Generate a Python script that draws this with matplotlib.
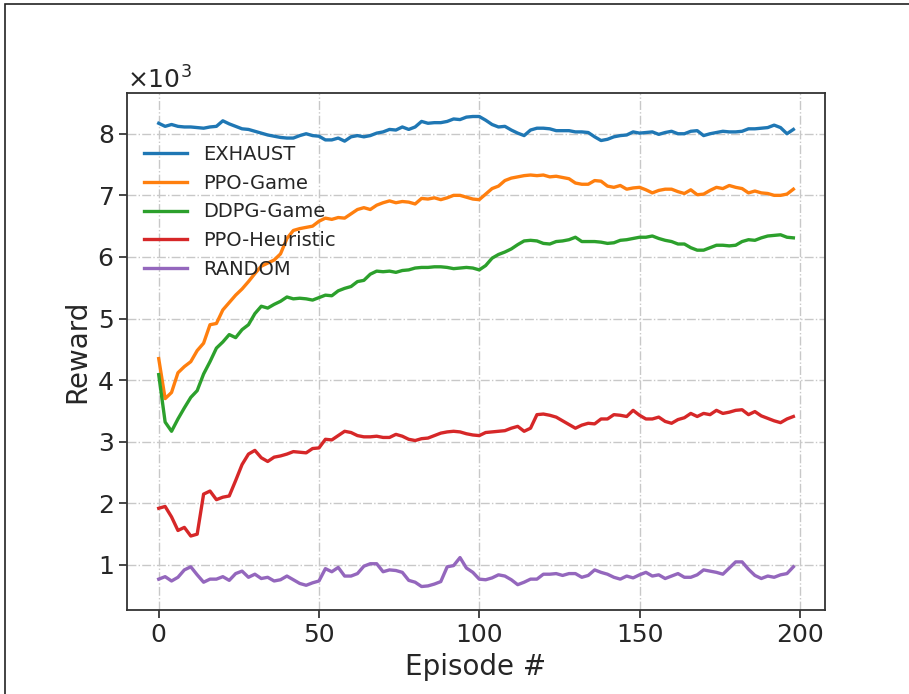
import matplotlib
matplotlib.use('Agg')
import matplotlib.pyplot as plt
import numpy as np
from matplotlib.patches import Rectangle

# 数据（单位：千），每 2 个 episode 取一个点
episodes = np.arange(0, 200, 2)

exhaust = [8.17, 8.12, 8.15, 8.12, 8.11, 8.11, 8.10, 8.09, 8.11, 8.12,
           8.21, 8.16, 8.12, 8.08, 8.07, 8.04, 8.01, 7.98, 7.96, 7.94,
           7.93, 7.93, 7.97, 8.00, 7.97, 7.96, 7.90, 7.90, 7.93, 7.88,
           7.95, 7.97, 7.95, 7.97, 8.01, 8.03, 8.07, 8.06, 8.11, 8.07,
           8.11, 8.20, 8.17, 8.18, 8.18, 8.20, 8.24, 8.23, 8.27, 8.28,
           8.28, 8.22, 8.15, 8.11, 8.12, 8.06, 8.01, 7.97, 8.06, 8.09,
           8.09, 8.08, 8.05, 8.05, 8.05, 8.03, 8.03, 8.02, 7.95, 7.89,
           7.91, 7.95, 7.97, 7.98, 8.03, 8.01, 8.02, 8.03, 7.99, 8.02,
           8.04, 8.00, 8.00, 8.04, 8.05, 7.97, 8.00, 8.02, 8.04, 8.03,
           8.03, 8.04, 8.08, 8.08, 8.09, 8.10, 8.14, 8.10, 8.00, 8.07]

ppo_game = [4.35, 3.70, 3.80, 4.12, 4.22, 4.30, 4.48, 4.60, 4.90, 4.92,
            5.14, 5.26, 5.38, 5.48, 5.60, 5.73, 5.85, 5.90, 5.95, 6.05,
            6.30, 6.43, 6.46, 6.48, 6.50, 6.58, 6.63, 6.61, 6.64, 6.63,
            6.70, 6.77, 6.80, 6.77, 6.84, 6.88, 6.91, 6.88, 6.90, 6.89,
            6.86, 6.95, 6.94, 6.96, 6.93, 6.96, 7.00, 7.00, 6.97, 6.94,
            6.93, 7.02, 7.11, 7.15, 7.24, 7.28, 7.30, 7.32, 7.33, 7.32,
            7.33, 7.30, 7.31, 7.29, 7.27, 7.20, 7.18, 7.18, 7.24, 7.23,
            7.15, 7.13, 7.16, 7.10, 7.12, 7.13, 7.09, 7.04, 7.08, 7.10,
            7.10, 7.06, 7.03, 7.09, 7.01, 7.02, 7.08, 7.13, 7.11, 7.16,
            7.13, 7.11, 7.04, 7.07, 7.04, 7.03, 7.00, 7.00, 7.02, 7.10]

ddpg_game = [4.09, 3.32, 3.17, 3.37, 3.55, 3.72, 3.83, 4.10, 4.30, 4.52,
             4.62, 4.74, 4.69, 4.82, 4.90, 5.08, 5.20, 5.17, 5.23, 5.28,
             5.35, 5.32, 5.33, 5.32, 5.30, 5.34, 5.38, 5.37, 5.45, 5.49,
             5.52, 5.60, 5.62, 5.72, 5.77, 5.76, 5.77, 5.75, 5.78, 5.79,
             5.82, 5.83, 5.83, 5.84, 5.84, 5.83, 5.81, 5.82, 5.83, 5.82,
             5.79, 5.86, 5.98, 6.04, 6.08, 6.13, 6.20, 6.26, 6.27, 6.26,
             6.22, 6.21, 6.25, 6.26, 6.28, 6.32, 6.25, 6.25, 6.25, 6.24,
             6.22, 6.23, 6.27, 6.28, 6.30, 6.32, 6.32, 6.34, 6.30, 6.27,
             6.25, 6.21, 6.21, 6.15, 6.11, 6.11, 6.15, 6.19, 6.19, 6.18,
             6.19, 6.25, 6.28, 6.27, 6.31, 6.34, 6.35, 6.36, 6.32, 6.31]

ppo_heuristic = [1.92, 1.95, 1.78, 1.56, 1.61, 1.47, 1.50, 2.15, 2.20, 2.06,
                 2.10, 2.12, 2.37, 2.63, 2.80, 2.86, 2.74, 2.68, 2.75, 2.77,
                 2.80, 2.84, 2.83, 2.82, 2.89, 2.90, 3.04, 3.03, 3.10, 3.17,
                 3.15, 3.10, 3.08, 3.08, 3.09, 3.07, 3.07, 3.12, 3.09, 3.04,
                 3.02, 3.05, 3.06, 3.10, 3.14, 3.16, 3.17, 3.16, 3.13, 3.11,
                 3.10, 3.15, 3.16, 3.17, 3.18, 3.22, 3.25, 3.17, 3.22, 3.44,
                 3.45, 3.43, 3.40, 3.34, 3.28, 3.22, 3.27, 3.30, 3.29, 3.37,
                 3.37, 3.44, 3.43, 3.41, 3.51, 3.43, 3.37, 3.37, 3.40, 3.33,
                 3.30, 3.36, 3.39, 3.46, 3.41, 3.46, 3.44, 3.51, 3.46, 3.48,
                 3.51, 3.52, 3.44, 3.49, 3.42, 3.38, 3.34, 3.31, 3.37, 3.41]

random_policy = [0.77, 0.81, 0.74, 0.80, 0.92, 0.97, 0.84, 0.72, 0.77, 0.77,
                 0.81, 0.75, 0.86, 0.90, 0.80, 0.85, 0.78, 0.80, 0.74, 0.76,
                 0.82, 0.76, 0.70, 0.67, 0.71, 0.74, 0.94, 0.89, 0.96, 0.82,
                 0.82, 0.86, 0.98, 1.02, 1.02, 0.89, 0.92, 0.91, 0.88, 0.75,
                 0.72, 0.65, 0.66, 0.69, 0.73, 0.97, 0.99, 1.12, 0.95, 0.88,
                 0.77, 0.76, 0.79, 0.84, 0.82, 0.76, 0.68, 0.72, 0.77, 0.77,
                 0.85, 0.85, 0.86, 0.83, 0.86, 0.86, 0.80, 0.83, 0.92, 0.88,
                 0.85, 0.80, 0.77, 0.82, 0.79, 0.84, 0.88, 0.82, 0.84, 0.78,
                 0.82, 0.86, 0.80, 0.80, 0.84, 0.92, 0.90, 0.88, 0.85, 0.95,
                 1.05, 1.05, 0.93, 0.83, 0.78, 0.82, 0.80, 0.84, 0.86, 0.97]

series = [
    ("EXHAUST", exhaust, "tab:blue"),
    ("PPO-Game", ppo_game, "tab:orange"),
    ("DDPG-Game", ddpg_game, "tab:green"),
    ("PPO-Heuristic", ppo_heuristic, "tab:red"),
    ("RANDOM", random_policy, "tab:purple"),
]

plt.rcParams['font.family'] = ['DejaVu Sans']
text_color = '#262626'

fig = plt.figure(figsize=(9.09, 6.94), dpi=100)
ax = fig.add_axes([0.1397, 0.121, 0.768, 0.745])

for label, values, color in series:
    ax.plot(episodes, np.array(values) * 1000, color=color, linewidth=2.4, label=label)

ax.grid(True, linestyle='-.', color='#c8c8c8', linewidth=1)
ax.set_axisbelow(True)

ax.ticklabel_format(axis='y', style='sci', scilimits=(0, 0), useMathText=True)
ax.yaxis.get_offset_text().set_fontsize(18)
ax.yaxis.get_offset_text().set_color(text_color)

ax.set_xlabel("Episode #", fontsize=20, color=text_color)
ax.set_ylabel("Reward", fontsize=20, color=text_color)
ax.tick_params(axis='both', labelsize=18, colors=text_color, length=6, width=1.2, direction='out')
ax.set_xticks([0, 50, 100, 150, 200])

for spine in ax.spines.values():
    spine.set_color('#333333')
    spine.set_linewidth(1.3)

leg = ax.legend(loc='center left', bbox_to_anchor=(0, 0.77), frameon=False,
                fontsize=14, handlelength=2.2, labelspacing=0.5)
for t in leg.get_texts():
    t.set_color(text_color)

# 外框
fig.patches.append(Rectangle((5 / 909, -0.1), 1.2, 1.1 - 4 / 694, transform=fig.transFigure,
                             fill=False, edgecolor='#222222', linewidth=1.2))

fig.savefig('out.png', dpi=100)
